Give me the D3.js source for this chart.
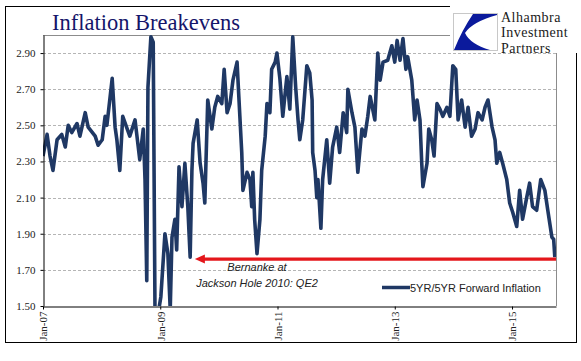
<!DOCTYPE html>
<html>
<head>
<meta charset="utf-8">
<script src="https://cdn.jsdelivr.net/npm/d3@7"></script>
<style>
body { margin: 0; background: #fff; }
svg text { font-family: "Liberation Serif", "Times New Roman", serif; }
svg text.sans { font-family: "Liberation Sans", Arial, sans-serif; }
</style>
</head>
<body>
<div id="chart"></div>
<script>
// decimal years
var years = [
  2007.00, 2007.07, 2007.12, 2007.17, 2007.24, 2007.32, 2007.38, 2007.43, 2007.49, 2007.58,
  2007.63, 2007.72, 2007.77, 2007.89, 2007.94, 2008.01, 2008.06, 2008.09, 2008.18, 2008.23,
  2008.26, 2008.31, 2008.36, 2008.48, 2008.57, 2008.65, 2008.71, 2008.74, 2008.77, 2008.79,
  2008.84, 2008.88, 2008.91, 2008.96, 2009.01, 2009.08, 2009.13, 2009.17, 2009.20, 2009.25,
  2009.28, 2009.32, 2009.37, 2009.42, 2009.47, 2009.51, 2009.54, 2009.56, 2009.63, 2009.68,
  2009.73, 2009.76, 2009.81, 2009.88, 2009.93, 2009.98, 2010.05, 2010.09, 2010.14, 2010.19,
  2010.24, 2010.31, 2010.34, 2010.39, 2010.41, 2010.48, 2010.53, 2010.56, 2010.58, 2010.61,
  2010.65, 2010.70, 2010.73, 2010.79, 2010.82, 2010.87, 2010.90, 2010.96, 2010.99, 2011.04,
  2011.09, 2011.16, 2011.21, 2011.26, 2011.31, 2011.35, 2011.38, 2011.43, 2011.50, 2011.55,
  2011.59, 2011.60, 2011.64, 2011.67, 2011.69, 2011.74, 2011.77, 2011.84, 2011.89, 2011.94,
  2012.01, 2012.06, 2012.12, 2012.18, 2012.20, 2012.27, 2012.32, 2012.37, 2012.44, 2012.49,
  2012.54, 2012.58, 2012.66, 2012.71, 2012.75, 2012.80, 2012.88, 2012.95, 2013.00, 2013.04,
  2013.09, 2013.14, 2013.19, 2013.22, 2013.29, 2013.34, 2013.38, 2013.43, 2013.46, 2013.48,
  2013.55, 2013.58, 2013.63, 2013.67, 2013.72, 2013.77, 2013.82, 2013.89, 2013.94, 2013.99,
  2014.04, 2014.08, 2014.14, 2014.20, 2014.25, 2014.31, 2014.37, 2014.42, 2014.49, 2014.54,
  2014.59, 2014.66, 2014.71, 2014.74, 2014.79, 2014.84, 2014.91, 2014.96, 2015.01, 2015.08,
  2015.13, 2015.18, 2015.25, 2015.30, 2015.35, 2015.42, 2015.49, 2015.56, 2015.61, 2015.68,
  2015.71, 2015.73
];

var breakevens = [
  2.33, 2.45, 2.33, 2.25, 2.42, 2.45, 2.38, 2.50, 2.46, 2.51,
  2.44, 2.57, 2.49, 2.44, 2.39, 2.42, 2.55, 2.50, 2.76, 2.49,
  2.42, 2.25, 2.55, 2.44, 2.53, 2.31, 2.48, 2.20, 1.64, 2.71,
  2.99, 2.96, 1.48, 1.45, 1.55, 1.90, 1.79, 1.48, 1.88, 1.98,
  1.81, 2.27, 2.05, 2.29, 2.05, 1.77, 2.25, 2.40, 2.53, 2.29,
  2.18, 2.07, 2.64, 2.48, 2.60, 2.66, 2.62, 2.81, 2.57, 2.62,
  2.75, 2.85, 2.66, 2.35, 2.14, 2.24, 2.20, 2.05, 2.24, 1.98,
  1.79, 1.98, 2.25, 2.44, 2.62, 2.57, 2.81, 2.85, 2.90, 2.76,
  2.55, 2.77, 2.59, 2.99, 2.71, 2.53, 2.42, 2.53, 2.83, 2.79,
  2.64, 2.35, 2.25, 2.10, 2.20, 1.93, 2.20, 2.42, 2.18, 2.38,
  2.49, 2.35, 2.57, 2.46, 2.70, 2.57, 2.49, 2.24, 2.48, 2.44,
  2.55, 2.66, 2.53, 2.90, 2.75, 2.85, 2.86, 2.94, 2.85, 2.97,
  2.86, 2.98, 2.81, 2.88, 2.75, 2.53, 2.64, 2.53, 2.29, 2.16,
  2.29, 2.48, 2.42, 2.33, 2.62, 2.59, 2.55, 2.60, 2.55, 2.83,
  2.81, 2.53, 2.64, 2.49, 2.60, 2.44, 2.48, 2.57, 2.53, 2.60,
  2.64, 2.49, 2.42, 2.29, 2.35, 2.29, 2.20, 2.07, 2.02, 1.94,
  2.14, 1.98, 2.10, 2.18, 2.05, 2.03, 2.20, 2.14, 2.03, 1.88,
  1.87, 1.77
];

var yTicks = [1.5, 1.7, 1.9, 2.1, 2.3, 2.5, 2.7, 2.9];
var xTicks = [2007, 2009, 2011, 2013, 2015];
var xTickLabels = ['Jan-07', 'Jan-09', 'Jan-11', 'Jan-13', 'Jan-15'];
var seriesName = '5YR/5YR Forward Inflation';
var noteLines = ['Bernanke at', 'Jackson Hole 2010: QE2'];
var logoLines = ['Alhambra', 'Investment', 'Partners'];
var qe2Level = 1.76;
var arrowStart = 2015.75, arrowEnd = 2009.59;

var W = 581, H = 361;
var navy = '#1f3864';

var svg = d3.select('#chart').append('svg')
  .attr('width', W)
  .attr('height', H);

// outer frame
svg.append('rect')
  .attr('x', 5.5).attr('y', 6.5)
  .attr('width', 571).attr('height', 336)
  .attr('fill', '#fff').attr('stroke', '#000');

var x = d3.scaleLinear().domain([2007, 2015.75]).range([43, 556]);
var y = d3.scaleLinear().domain([1.5, 3.0]).range([306, 35]);

// title
svg.append('text')
  .attr('x', 52).attr('y', 30)
  .attr('font-size', 22.5)
  .attr('fill', '#15156a')
  .text('Inflation Breakevens');

// gridlines
svg.append('g').selectAll('line')
  .data(yTicks.slice(1))
  .enter().append('line')
  .attr('x1', x(2007)).attr('x2', x(2015.75))
  .attr('y1', function(d) { return Math.round(y(d)) + 0.5; })
  .attr('y2', function(d) { return Math.round(y(d)) + 0.5; })
  .attr('stroke', '#b5b5b5')
  .attr('stroke-dasharray', '3,2');

// top and right plot border
svg.append('path')
  .attr('d', 'M' + x(2007) + ',' + (Math.round(y(3.0)) + 0.5) +
    'H' + (Math.round(x(2015.75)) + 0.5) + 'V' + y(1.5))
  .attr('fill', 'none')
  .attr('stroke', '#8c8c8c');

svg.append('clipPath').attr('id', 'plot-clip')
  .append('rect')
  .attr('x', x(2007)).attr('y', y(3.0))
  .attr('width', x(2015.75) - x(2007))
  .attr('height', y(1.5) - y(3.0));

var series = years.map(function(t, i) { return { t: t, v: breakevens[i] }; });

var line = d3.line()
  .x(function(d) { return x(d.t); })
  .y(function(d) { return y(d.v); });

svg.append('path')
  .datum(series)
  .attr('clip-path', 'url(#plot-clip)')
  .attr('d', line)
  .attr('fill', 'none')
  .attr('stroke', navy)
  .attr('stroke-width', 3.6)
  .attr('stroke-linejoin', 'round');

// axes
var yAxis = svg.append('g')
  .attr('transform', 'translate(' + (Math.round(x(2007)) + 0.5) + ',0)')
  .call(d3.axisLeft(y).tickValues(yTicks).tickSize(3).tickSizeOuter(0)
    .tickPadding(5).tickFormat(d3.format('.2f')));

var xAxis = svg.append('g')
  .attr('transform', 'translate(0,' + (Math.round(y(1.5)) + 0.5) + ')')
  .call(d3.axisBottom(x).tickValues(xTicks).tickSize(3).tickSizeOuter(0)
    .tickFormat(function(d, i) { return xTickLabels[i]; }));

xAxis.selectAll('text')
  .attr('transform', 'rotate(-90)')
  .attr('text-anchor', 'end')
  .attr('x', -5).attr('y', 0)
  .attr('dy', '0.35em');

[yAxis, xAxis].forEach(function(ax) {
  ax.attr('font-family', null);
  ax.selectAll('text')
    .attr('font-size', 11)
    .attr('fill', '#222');
  ax.selectAll('path, line').attr('stroke', '#000');
});

// QE2 arrow
var redC = '#e4161b';
svg.append('line')
  .attr('x1', x(arrowStart)).attr('x2', x(arrowEnd) + 8)
  .attr('y1', y(qe2Level)).attr('y2', y(qe2Level))
  .attr('stroke', redC)
  .attr('stroke-width', 3.2);

svg.append('path')
  .attr('d', 'M' + x(arrowEnd) + ',' + y(qe2Level) + 'l10,-4.5v9z')
  .attr('fill', redC);

svg.append('g').selectAll('text')
  .data(noteLines)
  .enter().append('text')
  .attr('class', 'sans')
  .attr('x', 257)
  .attr('y', function(d, i) { return 271 + i * 15.5; })
  .attr('text-anchor', 'middle')
  .attr('font-style', 'italic')
  .attr('font-size', 11)
  .attr('fill', '#222')
  .text(function(d) { return d; });

// legend
svg.append('line')
  .attr('x1', 382).attr('x2', 410)
  .attr('y1', 287.5).attr('y2', 287.5)
  .attr('stroke', navy)
  .attr('stroke-width', 3.5);

svg.append('text')
  .attr('class', 'sans')
  .attr('x', 410).attr('y', 291.5)
  .attr('font-size', 11)
  .attr('fill', '#222')
  .text(seriesName);

// logo block
var logo = svg.append('g');
logo.append('rect')
  .attr('x', 450).attr('y', 0)
  .attr('width', W - 450).attr('height', 53)
  .attr('fill', '#fff');
logo.append('rect')
  .attr('x', 453.5).attr('y', 13.5)
  .attr('width', 44).attr('height', 37)
  .attr('fill', '#fff')
  .attr('stroke', '#c8c8c8');
logo.append('path')
  .attr('d', 'M473,14 L497,14 L497,15 Q472,22 465,33 Q470,44 490,50 L454,50 Q462,30 473,14 Z')
  .attr('fill', '#0b1a9c');
logo.selectAll('text.logo')
  .data(logoLines)
  .enter().append('text')
  .attr('class', 'logo')
  .attr('x', 501)
  .attr('y', function(d, i) { return 21.5 + i * 15.5; })
  .attr('font-size', 14)
  .attr('letter-spacing', 0.5)
  .attr('fill', '#1a1a1a')
  .text(function(d) { return d; });
</script>
</body>
</html>
